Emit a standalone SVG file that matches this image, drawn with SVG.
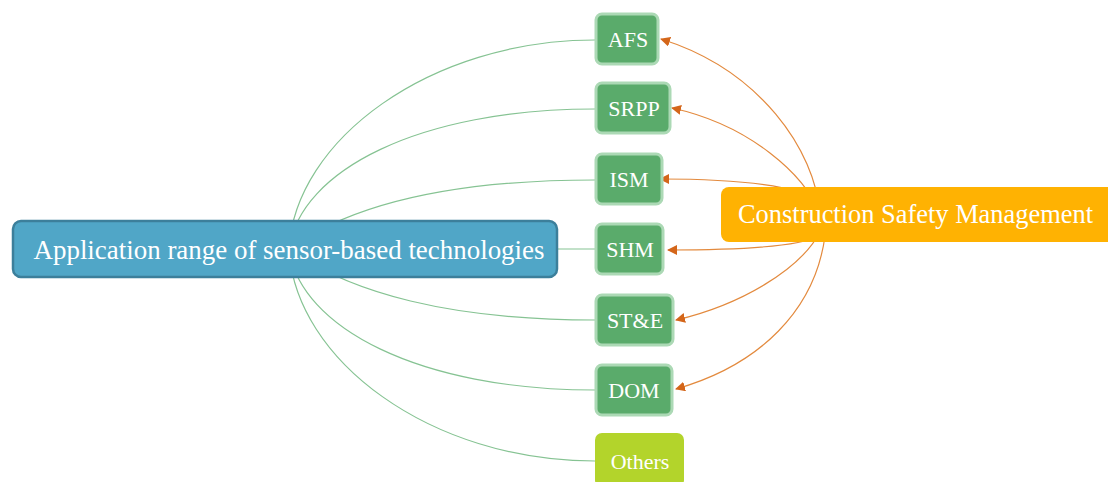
<svg xmlns="http://www.w3.org/2000/svg" width="1108" height="482" viewBox="0 0 1108 482">
<style>
.g{fill:none;stroke:#86c393;stroke-width:1.2}
.o{fill:none;stroke:#e38a3e;stroke-width:1.2}
.node rect{fill:#5aab6b;stroke:#acd9b5;stroke-width:3}
.t{font-family:"Liberation Serif","Times New Roman",serif;fill:#ffffff;text-anchor:middle}
.st{font-size:22px}
</style>
<defs>
<marker id="ah" viewBox="0 0 10 10" refX="9" refY="5" markerWidth="10" markerHeight="10" markerUnits="userSpaceOnUse" orient="auto">
<path d="M0,0 L10,5 L0,10 Z" fill="#d4661a"/>
</marker>
</defs>
<g id="connectors">
<path class="g" d="M289,249 C295,140 430,40 595,40"/>
<path class="g" d="M289,249 C300,170 420,109 595,109"/>
<path class="g" d="M289,249 C350,205 450,180 595,180"/>
<path class="g" d="M289,249 L595,249"/>
<path class="g" d="M289,249 C350,293 450,320 595,320"/>
<path class="g" d="M289,249 C300,328 420,390 595,390"/>
<path class="g" d="M289,249 C295,360 430,461 595,461"/>
<path class="o" marker-end="url(#ah)" d="M820,214 C815,150 760,70 661,39"/>
<path class="o" marker-end="url(#ah)" d="M820,214 C805,175 750,125 672,108"/>
<path class="o" marker-end="url(#ah)" d="M800,192 C770,183 720,179 660,179"/>
<path class="o" marker-end="url(#ah)" d="M820,236 C800,246 740,250 668,250"/>
<path class="o" marker-end="url(#ah)" d="M820,232 C800,270 740,305 676,320"/>
<path class="o" marker-end="url(#ah)" d="M825,236 C815,310 760,365 676,389"/>
</g>
<g id="n-app">
<rect x="13" y="221" width="544" height="56" rx="8" fill="#50a6c7" stroke="#3c7f9b" stroke-width="2.5"/>
<text class="t" x="289" y="259" font-size="27" textLength="511" lengthAdjust="spacingAndGlyphs">Application range of sensor-based technologies</text>
</g>
<g id="n-csm">
<rect x="721" y="187" width="400" height="55" rx="8" fill="#ffb202"/>
<text class="t" x="738" y="223" font-size="27" style="text-anchor:start" textLength="355" lengthAdjust="spacingAndGlyphs">Construction Safety Management</text>
</g>
<g id="n-afs" class="node">
<rect x="596" y="14" width="62" height="50" rx="6"/>
<text class="t st" x="628" y="47">AFS</text>
</g>
<g id="n-srpp" class="node">
<rect x="596" y="83" width="74" height="50" rx="6"/>
<text class="t st" x="634" y="116">SRPP</text>
</g>
<g id="n-ism" class="node">
<rect x="596" y="154" width="66" height="50" rx="6"/>
<text class="t st" x="629" y="187">ISM</text>
</g>
<g id="n-shm" class="node">
<rect x="596" y="224" width="67" height="50" rx="6"/>
<text class="t st" x="630" y="257">SHM</text>
</g>
<g id="n-ste" class="node">
<rect x="596" y="295" width="77" height="50" rx="6"/>
<text class="t st" x="635" y="328">ST&amp;E</text>
</g>
<g id="n-dom" class="node">
<rect x="596" y="365" width="76" height="50" rx="6"/>
<text class="t st" x="634" y="398">DOM</text>
</g>
<g id="n-others">
<rect x="595" y="433" width="89" height="54" rx="7" fill="#b3d42b"/>
<text class="t st" x="640" y="469">Others</text>
</g>
</svg>
